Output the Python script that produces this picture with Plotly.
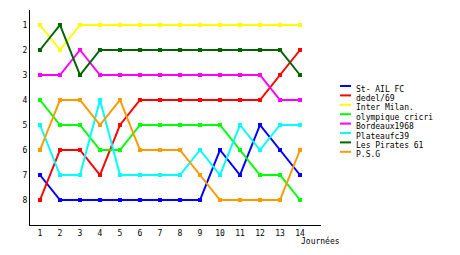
import plotly.graph_objects as go

journees = list(range(1, 15))
team_names = ["St- AIL FC", "dedel/69", "Inter Milan.", "olympique cricri",
              "Bordeaux1968", "Plateaufc39", "Les Pirates 61", "P.S.G"]
st_ail = [7, 8, 8, 8, 8, 8, 8, 8, 8, 6, 7, 5, 6, 7]
dedel = [8, 6, 6, 7, 5, 4, 4, 4, 4, 4, 4, 4, 3, 2]
inter = [1, 2, 1, 1, 1, 1, 1, 1, 1, 1, 1, 1, 1, 1]
olympique = [4, 5, 5, 6, 6, 5, 5, 5, 5, 5, 6, 7, 7, 8]
bordeaux = [3, 3, 2, 3, 3, 3, 3, 3, 3, 3, 3, 3, 4, 4]
plateau = [5, 7, 7, 4, 7, 7, 7, 7, 6, 7, 5, 6, 5, 5]
pirates = [2, 1, 3, 2, 2, 2, 2, 2, 2, 2, 2, 2, 2, 3]
psg = [6, 4, 4, 5, 4, 6, 6, 6, 7, 8, 8, 8, 8, 6]
series = [st_ail, dedel, inter, olympique, bordeaux, plateau, pirates, psg]
colors = ["#0000ff", "#ff0000", "#ffff00", "#00ff00",
          "#ff00ff", "#00ffff", "#006400", "#ff9900"]
y_ticks = list(range(1, 9))

FONT = "DejaVu Sans Mono"
FS = 8

fig = go.Figure()
for name, vals, col in zip(team_names, series, colors):
    fig.add_trace(go.Scatter(
        x=journees, y=vals, name=name, mode="lines+markers",
        line=dict(color=col, width=2),
        marker=dict(symbol="square", size=4, color=col),
        showlegend=False,
    ))

# manual compact legend
for i, (name, col) in enumerate(zip(team_names, colors)):
    yy = 1 - (89 + i * 9.4 - 10) / 215
    fig.add_shape(type="line", xref="paper", yref="paper",
                  x0=(340 - 30) / 291, x1=(351 - 30) / 291, y0=yy + 3 / 215, y1=yy + 3 / 215,
                  line=dict(color=col, width=2))
    fig.add_annotation(x=(355 - 30) / 291, y=yy, xref="paper", yref="paper",
                       text=name, showarrow=False, xanchor="left", yanchor="middle",
                       font=dict(family=FONT, size=FS, color="black"),
                       borderpad=0)

fig.add_annotation(x=(300 - 30) / 291, y=-(241 - 225) / 215, xref="paper", yref="paper",
                   text="Journées", showarrow=False, xanchor="left", yanchor="middle",
                   font=dict(family=FONT, size=FS, color="black"), borderpad=0)

fig.update_layout(
    width=460, height=255,
    margin=dict(l=30, r=139, t=10, b=30),
    paper_bgcolor="white", plot_bgcolor="white",
    font=dict(family=FONT, size=FS, color="black"),
    xaxis=dict(range=[0.5, 15.05], tickvals=journees, showgrid=False, zeroline=False,
               showline=True, linecolor="black", linewidth=1, ticks="", ticklen=0,
               tickfont=dict(size=FS)),
    yaxis=dict(range=[9, 0.4], tickvals=y_ticks, showgrid=False, zeroline=False,
               showline=True, linecolor="black", linewidth=1, ticks="", ticklen=0,
               tickfont=dict(size=FS)),
)

fig.write_html("out.html")
